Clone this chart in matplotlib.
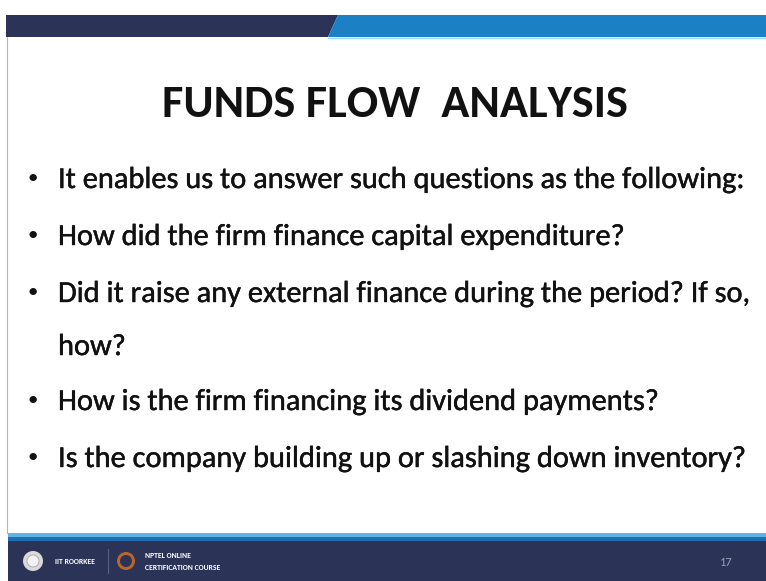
import matplotlib.pyplot as plt
import matplotlib.patheffects as pe
from matplotlib.patches import Rectangle, Polygon, Circle

# slide content
title = "FUNDS FLOW  ANALYSIS"
bullets = [
    "It enables us to answer such questions as the following:",
    "How did the firm finance capital expenditure?",
    "Did it raise any external finance during the period? If so,",
    "How is the firm financing its dividend payments?",
    "Is the company building up or slashing down inventory?",
]
wrapped = ["how?"]
footer_left = "IIT ROORKEE"
footer_course = ["NPTEL ONLINE", "CERTIFICATION COURSE"]
page_no = "17"

navy = "#2b3357"
blue = "#1b80c4"
ink = "#111111"
font = ["Carlito", "DejaVu Sans"]
body_size = 21.9
thick = [pe.withStroke(linewidth=0.3, foreground=ink)]

W, H = 766, 581
fig = plt.figure(figsize=(W / 100, H / 100), dpi=100)
ax = fig.add_axes([0, 0, 1, 1])
ax.set_xlim(0, W)
ax.set_ylim(H, 0)
ax.axis("off")

# top band
ax.add_patch(Polygon([[6, 15], [338, 15], [328, 37], [6, 37]], color=navy, lw=0))
ax.add_patch(Polygon([[338, 15], [W, 15], [W, 37], [328, 37]], color=blue, lw=0))
ax.plot([328, W], [37.5, 37.5], color="#9fdcf5", lw=1)
# left border
ax.plot([7, 7], [37, 533], color="#b5b5b5", lw=0.8)

# title
ax.text(395, 117, title, fontsize=33.4, fontweight="bold", family=font,
        ha="center", va="baseline", color=ink)

# bullets
y = 188
for line in bullets:
    ax.text(33, y - 4, "\u2022", fontsize=15, family=font, ha="center", va="baseline", color=ink)
    ax.text(58, y, line, fontsize=body_size, family=font, ha="left", va="baseline",
            color=ink, path_effects=thick)
    if line.endswith("If so,"):
        y += 53
        ax.text(58, y, wrapped[0], fontsize=body_size, family=font, ha="left", va="baseline",
                color=ink, path_effects=thick)
        y += 55
    else:
        y += 57

# footer
ax.add_patch(Rectangle((8, 533), W - 8, 4, color="#5fb4e6", lw=0))
ax.add_patch(Rectangle((8, 537), W - 8, 4, color="#1f6fb0", lw=0))
ax.add_patch(Rectangle((8, 541), W - 8, H - 541, color=navy, lw=0))
ax.add_patch(Circle((33, 561), 10, color="#d9d9d9", lw=0))
ax.add_patch(Circle((33, 561), 6, color="#f2f2f2", ec="#a8a8a8", lw=0.6))
ax.text(55, 561, footer_left, fontsize=5.5, fontweight="bold", family=font,
        color="white", ha="left", va="center")
ax.plot([108, 108], [549, 573], color="#56607f", lw=0.8)
ax.add_patch(Circle((126, 561), 9, color="#b8662a", lw=0))
ax.add_patch(Circle((126, 561), 6, color="#2b3357", lw=0))
ax.text(145, 555, footer_course[0], fontsize=5.5, fontweight="bold", family=font,
        color="white", ha="left", va="center")
ax.text(145, 567, footer_course[1], fontsize=5.5, fontweight="bold", family=font,
        color="white", ha="left", va="center")
ax.text(726, 562, page_no, fontsize=9, family=font, color="#9aa0b5", ha="center", va="center")

fig.savefig("out.png", dpi=100)
